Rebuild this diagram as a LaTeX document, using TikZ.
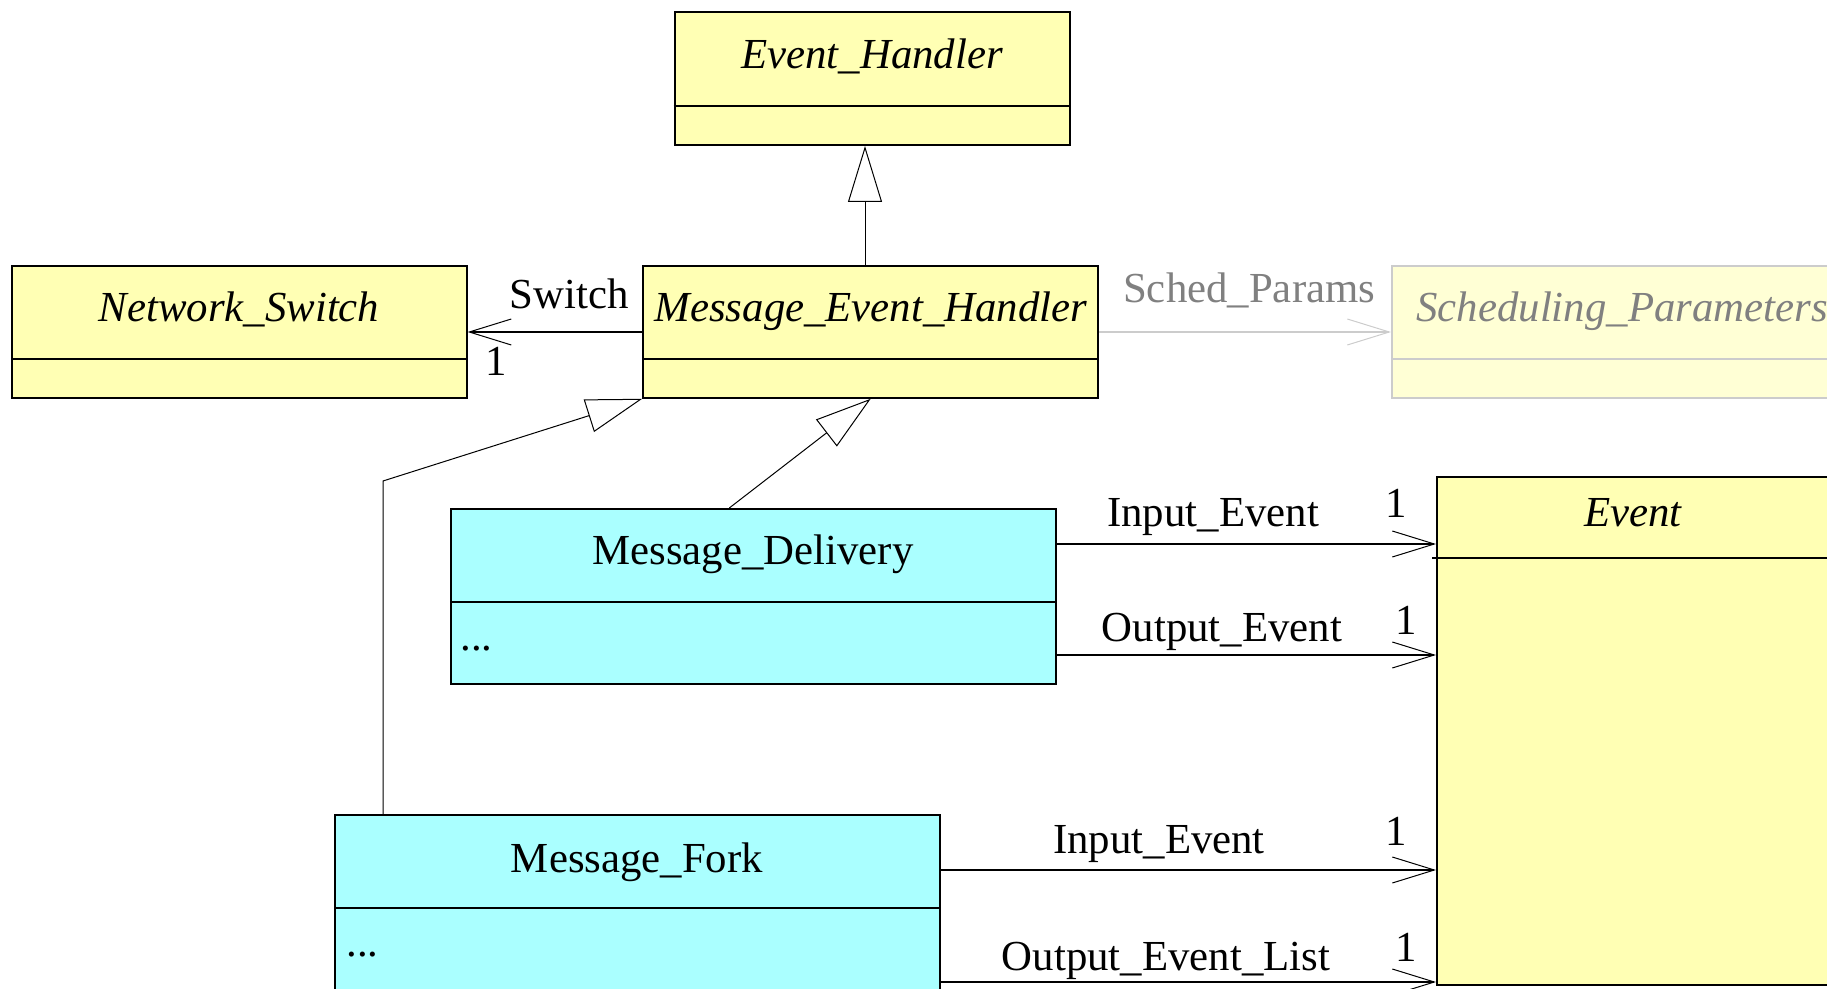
\documentclass[tikz,border=0pt]{standalone}
\usepackage{fontspec}
\setmainfont{Liberation Serif}
\usetikzlibrary{arrows.meta, positioning}

\definecolor{classyellow}{HTML}{FFFFB4}
\definecolor{classcyan}{HTML}{AAFFFF}
\definecolor{fadedyellow}{HTML}{FFFFD5}
\definecolor{fadedline}{HTML}{CCCCCC}
\definecolor{fadedtext}{HTML}{808080}

\begin{document}
\begin{tikzpicture}[
    x=0.5pt, y=-0.5pt,
    cls/.style={rectangle, draw, line width=1pt, fill=classyellow},
    impl/.style={rectangle, draw, line width=1pt, fill=classcyan},
    faded/.style={rectangle, draw=fadedline, line width=1pt, fill=fadedyellow},
    title/.style={anchor=base, inner sep=0pt},
    lbl/.style={anchor=base, inner sep=0pt},
    inherit/.style={-{Triangle[open, length=28pt, width=17pt, line width=0.5pt]}, line width=0.5pt},
    assoc/.style={-{Straight Barb[length=21pt, width=13pt, line width=0.5pt]}, line width=0.8pt}]
    \fontsize{21.4}{25}\selectfont
    \clip (0,0) rectangle (1827,989);
    % Classes
    \node[cls, minimum width=197.5pt, minimum height=66.5pt] (eh) at (872,78.5) {};
    \node[cls, minimum width=227.3pt, minimum height=65.8pt] (ns) at (239.3,332) {};
    \node[cls, minimum width=227.5pt, minimum height=65.8pt] (meh) at (870.7,332) {};
    \node[faded, minimum width=250pt, minimum height=65.8pt] (sp) at (1642,332) {};
    \node[impl, minimum width=302.3pt, minimum height=87.5pt] (md) at (753.3,596.5) {};
    \node[impl, minimum width=302.3pt, minimum height=102.5pt] (mf) at (637.3,917.8) {};
    \node[cls, minimum width=231.5pt, minimum height=254pt] (ev) at (1668.5,731) {};

    % Names
    \node[title, font=\itshape] (ehName) at (872,69) {Event\_Handler};
    \node[title, font=\itshape] (nsName) at (239,322) {Network\_Switch};
    \node[title, font=\itshape] (mehName) at (871,322) {Message\_Event\_Handler};
    \node[title, font=\itshape, anchor=base west, text=fadedtext] (spName) at (1416,322) {Scheduling\_Parameters};
    \node[title] (mdName) at (753,565) {Message\_Delivery};
    \node[title] (mfName) at (637,872) {Message\_Fork};
    \node[title, font=\itshape] (evName) at (1633,527) {Event};
    \node[title, anchor=base west] (mdAttr) at (460,650) {...};
    \node[title, anchor=base west] (mfAttr) at (346,956) {...};

    % Compartments
    \draw[line width=1pt] ([yshift=-47.5pt]eh.north west) -- ([yshift=-47.5pt]eh.north east);
    \draw[line width=1pt] ([yshift=-47pt]ns.north west) -- ([yshift=-47pt]ns.north east);
    \draw[line width=1pt] ([yshift=-47pt]meh.north west) -- ([yshift=-47pt]meh.north east);
    \draw[line width=1pt, fadedline] ([yshift=-47pt]sp.north west) -- ([yshift=-47pt]sp.north east);
    \draw[line width=1pt] ([yshift=-47pt]md.north west) -- ([yshift=-47pt]md.north east);
    \draw[line width=1pt] ([yshift=-47pt]mf.north west) -- ([yshift=-47pt]mf.north east);
    \draw[line width=1pt] ([xshift=-2pt, yshift=-41pt]ev.north west) -- ([yshift=-41pt]ev.north east);

    % Inheritance
    \coordinate (mfBend) at (383,481);
    \draw[inherit] (meh.north -| 865,0) -- (eh.south -| 865,0);
    \draw[inherit] ([xshift=-12pt]md.north) -- (meh.south);
    \draw[inherit] (mf.north -| mfBend) -- (mfBend) -- (meh.south west);

    % Associations
    \draw[assoc] (meh.west) -- node[lbl, pos=.418, yshift=11.5pt] {Switch} node[lbl, pos=.835, yshift=-22pt] {1} (ns.east);
    \draw[assoc, draw=fadedline] (meh.east) -- node[lbl, pos=.514, yshift=14.5pt, text=fadedtext] {Sched\_Params} (sp.west);
    \draw[assoc] (md.east |- 0,544) -- node[lbl, pos=.4125, yshift=8.5pt] {Input\_Event} node[lbl, pos=.896, yshift=13pt] {1} (ev.west |- 0,544);
    \draw[assoc] (md.east |- 0,655) -- node[lbl, pos=.436, yshift=7pt] {Output\_Event} node[lbl, pos=.922, yshift=10.5pt] {1} (ev.west |- 0,655);
    \draw[assoc] (mf.east |- 0,870) -- node[lbl, pos=.441, yshift=8.5pt] {Input\_Event} node[lbl, pos=.92, yshift=12.5pt] {1} (ev.west |- 0,870);
    \draw[assoc] (mf.east |- 0,982) -- node[lbl, pos=.455, yshift=6pt] {Output\_Event\_List} node[lbl, pos=.94, yshift=10.5pt] {1} (ev.west |- 0,982);
\end{tikzpicture}
\end{document}
